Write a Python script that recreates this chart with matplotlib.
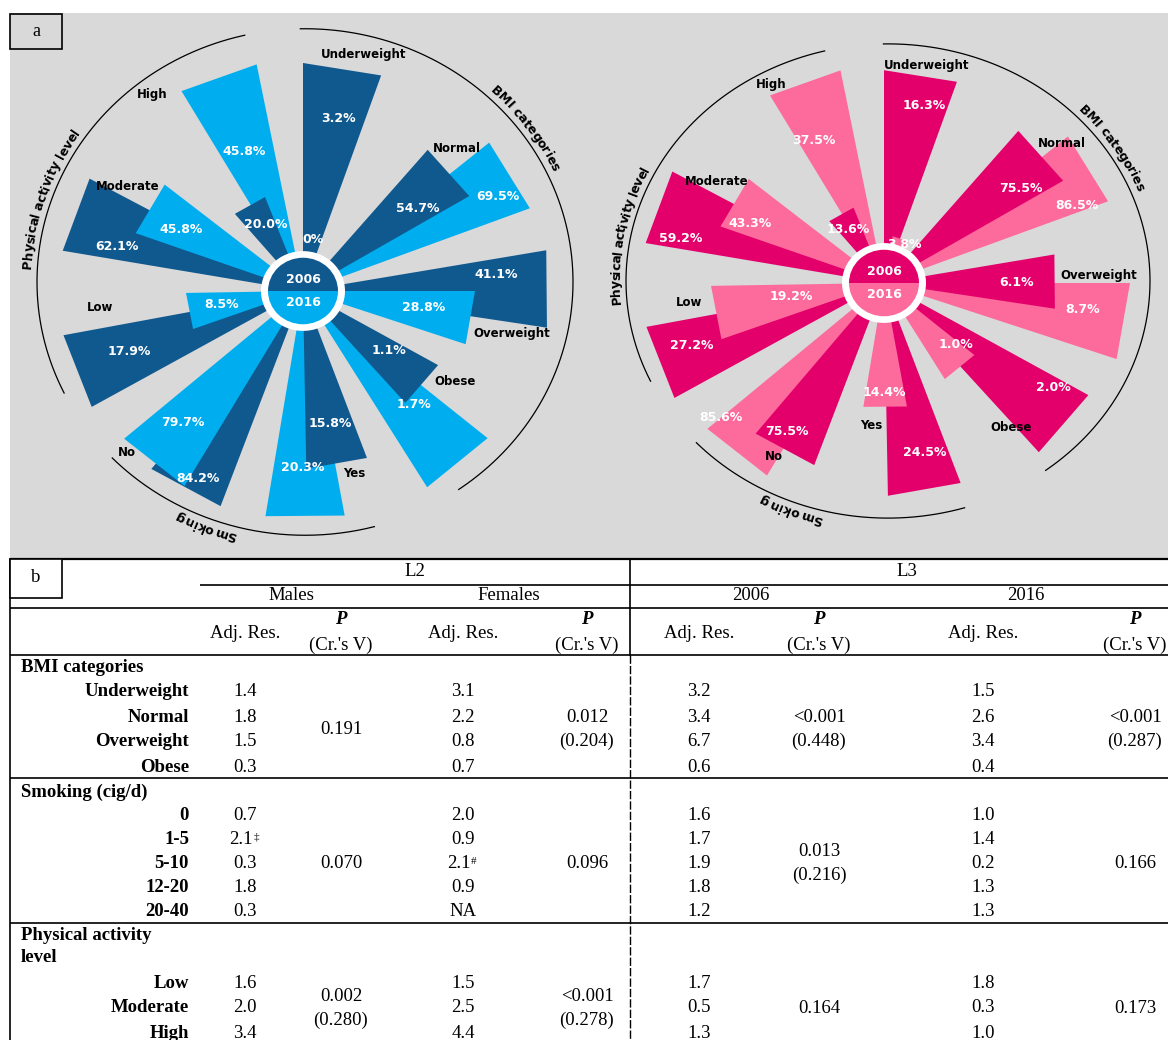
import numpy as np
import matplotlib
matplotlib.use("Agg")
import matplotlib.pyplot as plt
from matplotlib.patches import Rectangle
from matplotlib.font_manager import FontProperties
from matplotlib.textpath import TextToPath

W, H, DPI = 1168, 1040, 100

# ---------------- panel a : rose charts ----------------
cats = ["Underweight", "Normal", "Overweight", "Obese", "Yes", "No",
        "Low", "Moderate", "High"]
groups = ["BMI categories", "Smoking", "Physical activity level"]

# bar lengths (chart units) and printed percentages
blue_2006_len = [240, 194, 247, 156, 187, 241, 244, 244, 106]
blue_2016_len = [0, 243, 172, 241, 240, 237, 117, 178, 243]
blue_2006_pct = ["3.2%", "54.7%", "41.1%", "1.1%", "15.8%", "84.2%", "17.9%", "62.1%", "20.0%"]
blue_2016_pct = ["0%", "69.5%", "28.8%", "1.7%", "20.3%", "79.7%", "8.5%", "45.8%", "45.8%"]

pink_2006_len = [224, 209, 173, 236, 224, 204, 242, 242, 85]
pink_2016_len = [50, 240, 246, 118, 132, 234, 173, 174, 228]
pink_2006_pct = ["16.3%", "75.5%", "6.1%", "2.0%", "24.5%", "75.5%", "27.2%", "59.2%", "13.6%"]
pink_2016_pct = ["3.8%", "86.5%", "8.7%", "1.0%", "14.4%", "85.6%", "19.2%", "43.3%", "37.5%"]

# label placement (compass angle in deg, radius)
blue_pos06 = [(11, 185), (53, 144), (85, 194), (126, 106), (169, 142),
              (208, 223), (250, 185), (284, 192), (332, 79)]
blue_pos16 = [(11, 55), (63, 219), (98, 122), (137, 163), (180, 186),
              (221, 183), (260, 83), (298, 138), (338, 158)]
blue_catpos = [(13.6, 256), (45.7, 215), (102, 213), (122, 179), (165, 199),
               (226, 245), (265, 204), (302, 207), (324, 256)]
pink_pos06 = [(12, 191), (54, 169), (90, 133), (123, 202), (167, 183),
              (212, 184), (251, 203), (283, 209), (328, 67)]
pink_pos16 = [(27, 46), (67, 210), (98, 201), (132, 97), (180, 115),
              (229, 216), (261, 94), (295, 148), (335, 165)]
pink_catpos = [(10.6, 233), (50.5, 231), (88, 215), (140, 198), (185, 151),
               (211, 213), (264, 196), (302.5, 198), (331.7, 237)]

GREY = "#d9d9d9"
RMAX = 290
SQ = 0.95

# ---------------- panel b : table ----------------
rows_bmi = ["Underweight", "Normal", "Overweight", "Obese"]
rows_smk = ["0", "1-5", "5-10", "12-20", "20-40"]
rows_pa = ["Low", "Moderate", "High"]

males_adj = ["1.4", "1.8", "1.5", "0.3", "0.7", "2.1", "0.3", "1.8", "0.3", "1.6", "2.0", "3.4"]
females_adj = ["3.1", "2.2", "0.8", "0.7", "2.0", "0.9", "2.1", "0.9", "NA", "1.5", "2.5", "4.4"]
l3_2006_adj = ["3.2", "3.4", "6.7", "0.6", "1.6", "1.7", "1.9", "1.8", "1.2", "1.7", "0.5", "1.3"]
l3_2016_adj = ["1.5", "2.6", "3.4", "0.4", "1.0", "1.4", "0.2", "1.3", "1.3", "1.8", "0.3", "1.0"]
males_mark = {5: "\u2021"}
females_mark = {6: "#"}

males_p = [["0.191"], ["0.070"], ["0.002", "(0.280)"]]
females_p = [["0.012", "(0.204)"], ["0.096"], ["<0.001", "(0.278)"]]
l3_2006_p = [["<0.001", "(0.448)"], ["0.013", "(0.216)"], ["0.164"]]
l3_2016_p = [["<0.001", "(0.287)"], ["0.166"], ["0.173"]]

fig = plt.figure(figsize=(W / DPI, H / DPI), dpi=DPI)
bg = fig.add_axes([0, 0, 1, 1])
bg.set_xlim(0, W)
bg.set_ylim(H, 0)
bg.axis("off")

bg.add_patch(Rectangle((10, 13), W - 10, 545, facecolor=GREY, edgecolor="none"))
bg.add_patch(Rectangle((10, 14), 52, 35, facecolor="none", edgecolor="black", lw=1.2))
bg.text(36, 31, "a", ha="center", va="center", family="Liberation Serif", fontsize=13)

t2p = TextToPath()


def tw(s, fp):
    return t2p.get_text_width_height_descent(s, fp, ismath=False)[0] * DPI / 72


def arc_text(ax, s, ang_c, r, sq, size=9):
    # one character at a time along the arc, tops pointing outwards
    fp = FontProperties(family="DejaVu Sans", weight="bold", size=size)
    base = tw("HH", fp)
    total = tw("H" + s + "H", fp) - base
    a_rad = np.radians(ang_c)
    rpx = r * np.sqrt(np.sin(a_rad) ** 2 + (sq * np.cos(a_rad)) ** 2)
    for i, ch in enumerate(s):
        left = tw("H" + s[:i] + "H", fp) - base
        w = tw("H" + ch + "H", fp) - base
        off = left + w / 2 - total / 2
        a = ang_c + np.degrees(off / rpx)
        ax.text(np.radians(a), r, ch, rotation=-a, rotation_mode="anchor",
                ha="center", va="baseline", fontproperties=fp, zorder=10)


def polar_ax(cx, cy, sq):
    ax = fig.add_axes([(cx - RMAX) / W, 1 - (cy + RMAX * sq) / H,
                       2 * RMAX / W, 2 * RMAX * sq / H], projection="polar")
    ax.set_aspect("auto")
    ax.set_theta_zero_location("N")
    ax.set_theta_direction(-1)
    ax.set_ylim(0, RMAX)
    ax.set_axis_off()
    return ax


def wedge(ax, t0, width, r, color, z):
    # straight-ended wedge from the centre
    ax.fill([0, t0, t0 + width], [0, r, r], color=color, lw=0, zorder=z)


def rose(cx, cy, len06, len16, pct06, pct16, pos06, pos16, catpos,
         deco, spans, grp_ang, c06, c16):
    ax = polar_ax(cx, cy, SQ)
    bw = np.radians(19)
    for k in range(len(cats)):
        start = np.radians(40 * k)
        # the shorter bar of each pair sits in front
        z06, z16 = (4, 3) if len06[k] <= len16[k] else (3, 4)
        wedge(ax, start, bw, len06[k], c06, z06)
        if len16[k] > 0:
            wedge(ax, start + np.radians(10), bw, len16[k], c16, z16)
        a, r = pos06[k]
        ax.text(np.radians(a), r, pct06[k], color="white", fontsize=9,
                fontweight="bold", ha="center", va="center", zorder=8)
        a, r = pos16[k]
        ax.text(np.radians(a), r, pct16[k], color="white", fontsize=9,
                fontweight="bold", ha="center", va="center", zorder=8)
        a, r = catpos[k]
        ax.text(np.radians(a), r, cats[k], color="black", fontsize=8.5,
                fontweight="bold", ha="center", va="center", zorder=9)

    # centre badge
    ax.bar(0, 42, width=2 * np.pi, bottom=0, color="white", lw=0, zorder=6)
    ax.bar(0, 35, width=np.pi, bottom=0, color=c06, lw=0, zorder=7)
    ax.bar(np.pi, 35, width=np.pi, bottom=0, color=c16, lw=0, zorder=7)
    ax.text(0, 12, "2006", color="white", fontsize=9, fontweight="bold",
            ha="center", va="center", zorder=8)
    ax.text(np.pi, 12, "2016", color="white", fontsize=9, fontweight="bold",
            ha="center", va="center", zorder=8)

    # group arcs and curved titles (own, slightly offset frame)
    dx, dy, arc_r, sq = deco
    ad = polar_ax(dx, dy, sq)
    for (a0, a1), g, ga in zip(spans, groups, grp_ang):
        th = np.radians(np.linspace(a0, a1, 200))
        ad.plot(th, np.full_like(th, arc_r), color="black", lw=0.9, zorder=5)
        arc_text(ad, g, ga, arc_r + 6, sq)


rose(303, 291, blue_2006_len, blue_2016_len, blue_2006_pct, blue_2016_pct,
     blue_pos06, blue_pos16, blue_catpos, (305, 282, 268, 0.945),
     [(-1, 145), (165, 226), (244, 347)], [53.6, 201, 289],
     "#10598f", "#00aeef")
rose(884, 283, pink_2006_len, pink_2016_len, pink_2006_pct, pink_2016_pct,
     pink_pos06, pink_pos16, pink_catpos, (888, 281, 262, 0.905),
     [(-1, 143), (163, 227), (245, 346)], [56.7, 201, 281],
     "#e4006b", "#fd6a9c")

# ---------------- table ----------------
SERIF = "Liberation Serif"
FS = 13.5
tx = dict(family=SERIF, fontsize=FS, va="center")


def hline(y, x0=10, x1=W, lw=1.2):
    bg.plot([x0, x1], [y, y], color="black", lw=lw, solid_capstyle="butt")


hline(559, lw=1.6)
hline(584.5, 200)
hline(608)
hline(655)
hline(778)
hline(923)
bg.plot([10, 10], [559, H], color="black", lw=1.2)
bg.plot([630, 630], [559, 655], color="black", lw=1.2)
bg.plot([630, 630], [655, H], color="black", lw=1.0, dashes=(6, 1.5))

bg.add_patch(Rectangle((10, 559), 52, 39, facecolor="white", edgecolor="black", lw=1.2, zorder=3))
bg.text(36, 578, "b", ha="center", zorder=4, **tx)

bg.text(415, 572, "L2", ha="center", **tx)
bg.text(907, 572, "L3", ha="center", **tx)
for x, s in zip([291, 509, 751, 1026], ["Males", "Females", "2006", "2016"]):
    bg.text(x, 596, s, ha="center", **tx)

adj_x = [245, 463, 699, 983]
p_x = [341, 587, 819, 1135]
for x in adj_x:
    bg.text(x, 633, "Adj. Res.", ha="center", **tx)
for x in p_x:
    bg.text(x, 620, "P", ha="center", style="italic", fontweight="bold", **tx)
    bg.text(x, 645, "(Cr.'s V)", ha="center", **tx)

sections = [("BMI categories", [668], rows_bmi, [692, 717, 742, 767]),
            ("Smoking (cig/d)", [792], rows_smk, [816, 840, 864, 888, 911]),
            (["Physical activity", "level"], [935, 958], rows_pa, [984, 1008, 1033])]

adj_cols = [males_adj, females_adj, l3_2006_adj, l3_2016_adj]
marks = [males_mark, females_mark, {}, {}]
p_cols = [males_p, females_p, l3_2006_p, l3_2016_p]

i = 0
for si, (title, ty, rows, ys) in enumerate(sections):
    titles = title if isinstance(title, list) else [title]
    for t, y in zip(titles, ty):
        bg.text(21, y, t, ha="left", fontweight="bold", **tx)
    for name, y in zip(rows, ys):
        bg.text(189, y, name, ha="right", fontweight="bold", **tx)
        for col, mk, x in zip(adj_cols, marks, adj_x):
            if i in mk:
                bg.text(x - 4, y, col[i], ha="center", **tx)
                bg.text(x + 11, y - 3, mk[i], ha="center", family=SERIF,
                        fontsize=8, va="center")
            else:
                bg.text(x, y, col[i], ha="center", **tx)
        i += 1
    ymid = (ys[0] + ys[-1]) / 2
    for pc, x in zip(p_cols, p_x):
        vals = pc[si]
        if len(vals) == 1:
            bg.text(x, ymid, vals[0], ha="center", **tx)
        else:
            bg.text(x, ymid - 12, vals[0], ha="center", **tx)
            bg.text(x, ymid + 12, vals[1], ha="center", **tx)

fig.savefig("out.png", dpi=DPI)
